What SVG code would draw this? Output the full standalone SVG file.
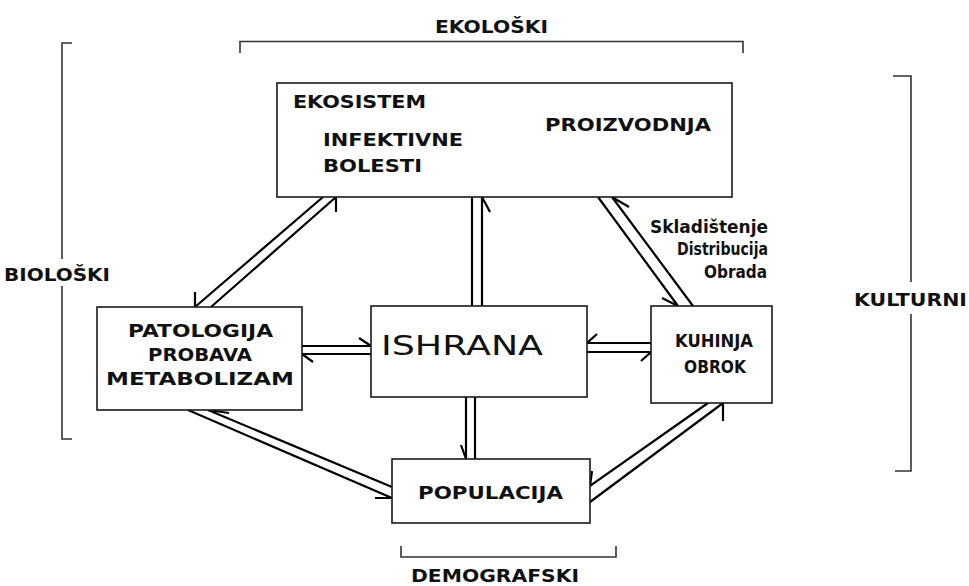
<svg xmlns="http://www.w3.org/2000/svg" width="969" height="586" viewBox="0 0 969 586">
<style>
.box{fill:#fff;stroke:#1a1a1a;stroke-width:1.6}
.lbl{font-family:"DejaVu Sans",Verdana,sans-serif;font-weight:bold;font-size:17.5px;fill:#111}
.big{font-family:"DejaVu Sans",Verdana,sans-serif;font-size:26px;fill:#111}
.sm{font-family:"DejaVu Sans",Verdana,sans-serif;font-weight:bold;font-size:17px;fill:#111}
.con{fill:none;stroke:#000;stroke-width:2.2;stroke-linecap:butt}
.brk{fill:none;stroke:#333;stroke-width:1.6}
</style>
<rect width="969" height="586" fill="#fff"/>

<g id="brackets">
  <path class="brk" d="M240,53 V41.5 H743 V53"/>
  <text class="lbl" x="435" y="33" textLength="113" lengthAdjust="spacingAndGlyphs">EKOLOŠKI</text>
  <path class="brk" d="M72,43 H62 V259"/>
  <path class="brk" d="M62,286 V439 H72"/>
  <text class="lbl" x="4" y="281" textLength="106" lengthAdjust="spacingAndGlyphs">BIOLOŠKI</text>
  <path class="brk" d="M893,76 H911 V282"/>
  <path class="brk" d="M911,314 V471 H895"/>
  <text class="lbl" x="854" y="306" textLength="113" lengthAdjust="spacingAndGlyphs">KULTURNI</text>
  <path class="brk" d="M401,546 V557 H616 V546"/>
  <text class="lbl" x="411" y="582" textLength="168" lengthAdjust="spacingAndGlyphs">DEMOGRAFSKI</text>
</g>

<g id="connectors">
  <!-- Patologija - Ekosistem -->
  <path class="con" d="M195,307 L323,197 M195,307 L195,292"/>
  <path class="con" d="M211,307 L336,197 M336,197 L336,212"/>
  <!-- Ishrana - Ekosistem -->
  <path class="con" d="M472,197 V306"/>
  <path class="con" d="M482,306 V197 L490,212"/>
  <!-- Patologija - Ishrana -->
  <path class="con" d="M302,346 H371 L359,338"/>
  <path class="con" d="M313,362 L302,354 H371"/>
  <!-- Ishrana - Kuhinja -->
  <path class="con" d="M597,334 L587,343 H651"/>
  <path class="con" d="M587,352 H651 L641,361"/>
  <!-- Ekosistem - Kuhinja -->
  <path class="con" d="M598,197 L678,306 L662,298"/>
  <path class="con" d="M693,306 L612,197 L629,207"/>
  <!-- Patologija - Populacija -->
  <path class="con" d="M392,487 L208,410 L229,413"/>
  <path class="con" d="M188,410 L392,498 H375"/>
  <!-- Populacija - Kuhinja -->
  <path class="con" d="M592,471 L590,486 L708,403"/>
  <path class="con" d="M590,502 L723,403 V421"/>
  <!-- Ishrana - Populacija -->
  <path class="con" d="M466,397 V459 L461,445"/>
  <path class="con" d="M475,397 V459"/>
</g>

<g id="ekosistem">
  <rect class="box" x="277" y="83" width="455" height="114"/>
  <text class="lbl" x="293" y="108" textLength="133" lengthAdjust="spacingAndGlyphs">EKOSISTEM</text>
  <text class="lbl" x="323" y="145.5" textLength="140" lengthAdjust="spacingAndGlyphs">INFEKTIVNE</text>
  <text class="lbl" x="323" y="171.5" textLength="99" lengthAdjust="spacingAndGlyphs">BOLESTI</text>
  <text class="lbl" x="545" y="130.5" textLength="166" lengthAdjust="spacingAndGlyphs">PROIZVODNJA</text>
</g>

<g id="patologija">
  <rect class="box" x="97" y="307" width="205" height="103"/>
  <text class="lbl" x="128" y="337" textLength="145" lengthAdjust="spacingAndGlyphs">PATOLOGIJA</text>
  <text class="lbl" x="148" y="361" textLength="104" lengthAdjust="spacingAndGlyphs">PROBAVA</text>
  <text class="lbl" x="106" y="385" textLength="188" lengthAdjust="spacingAndGlyphs">METABOLIZAM</text>
</g>

<g id="ishrana">
  <rect class="box" x="371" y="306" width="216" height="91"/>
  <text class="big" x="381" y="355" textLength="162" lengthAdjust="spacingAndGlyphs">ISHRANA</text>
</g>

<g id="kuhinja">
  <rect class="box" x="651" y="306" width="121" height="97"/>
  <text class="lbl" x="675" y="347" textLength="78" lengthAdjust="spacingAndGlyphs">KUHINJA</text>
  <text class="lbl" x="684" y="373" textLength="62" lengthAdjust="spacingAndGlyphs">OBROK</text>
</g>

<g id="populacija">
  <rect class="box" x="392" y="459" width="198" height="64"/>
  <text class="lbl" x="418" y="499" textLength="145" lengthAdjust="spacingAndGlyphs">POPULACIJA</text>
</g>

<g id="skladistenje">
  <text class="sm" x="650" y="233" textLength="118" lengthAdjust="spacingAndGlyphs">Skladištenje</text>
  <text class="sm" x="677" y="255" textLength="91" lengthAdjust="spacingAndGlyphs">Distribucija</text>
  <text class="sm" x="704" y="278" textLength="63" lengthAdjust="spacingAndGlyphs">Obrada</text>
</g>
</svg>
